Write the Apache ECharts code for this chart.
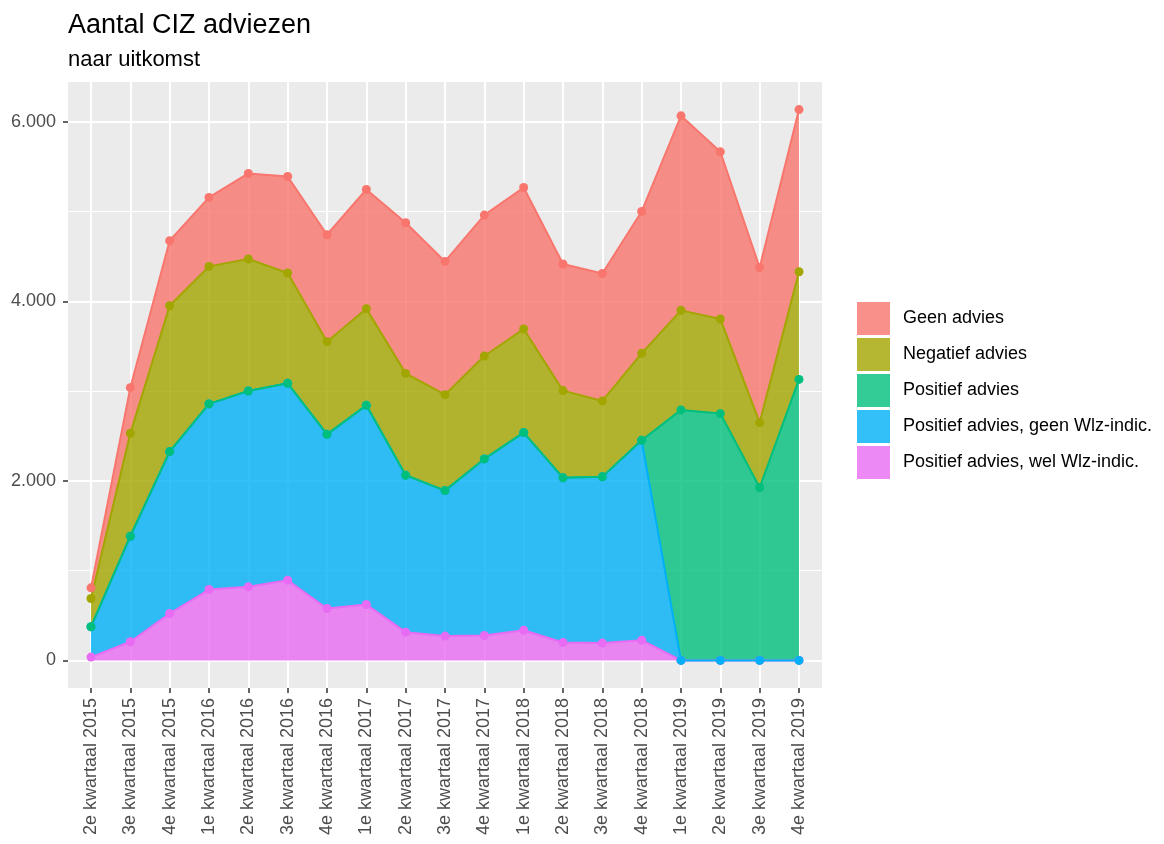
<!DOCTYPE html>
<html lang="nl">
<head>
  <meta charset="UTF-8">
  <title>Aantal CIZ adviezen</title>
  <script src="https://cdn.jsdelivr.net/npm/echarts@6/dist/echarts.min.js"></script>
  <style>
    html, body { margin: 0; padding: 0; background: #fff; }
    #chart { width: 1164px; height: 844px; }
  </style>
</head>
<body>
<div id="chart"></div>
<script>
// kwartalen op de x-as
var categories = [
  '2e kwartaal 2015', '3e kwartaal 2015', '4e kwartaal 2015',
  '1e kwartaal 2016', '2e kwartaal 2016', '3e kwartaal 2016', '4e kwartaal 2016',
  '1e kwartaal 2017', '2e kwartaal 2017', '3e kwartaal 2017', '4e kwartaal 2017',
  '1e kwartaal 2018', '2e kwartaal 2018', '3e kwartaal 2018', '4e kwartaal 2018',
  '1e kwartaal 2019', '2e kwartaal 2019', '3e kwartaal 2019', '4e kwartaal 2019'
];

// aantallen per uitkomst (niet cumulatief)
var welWlz     = [37, 208, 523, 790, 820, 894, 579, 623, 315, 271, 278, 337, 200, 193, 226, 0, 0, 0, 0];
var geenWlz    = [338, 1176, 1804, 2068, 2182, 2193, 1940, 2219, 1748, 1621, 1967, 2201, 1834, 1852, 2226, 0, 0, 0, 0];
var positief   = [0, 0, 0, 0, 0, 0, 0, 0, 0, 0, 0, 0, 0, 0, 0, 2791, 2750, 1926, 3131];
var negatief   = [315, 1146, 1625, 1532, 1470, 1229, 1032, 1076, 1135, 1069, 1147, 1154, 972, 846, 969, 1109, 1054, 723, 1199];
var geenAdvies = [119, 509, 723, 768, 953, 1075, 1191, 1329, 1678, 1484, 1569, 1577, 1410, 1420, 1581, 2167, 1862, 1729, 1807];

var yMajor = [0, 2000, 4000, 6000];
var yMinor = [1000, 3000, 5000];
var yMin = -307, yMax = 6444;

var colors = {
  geen: '#F8766D',
  neg: '#A3A500',
  pos: '#00BF7D',
  posGeen: '#00B0F6',
  posWel: '#E76BF3'
};

function fmt(v) {
  return String(v).replace(/\B(?=(\d{3})+(?!\d))/g, '.');
}

function mk(name, values, color) {
  return {
    name: name,
    type: 'line',
    stack: 'total',
    xAxisIndex: 1,
    yAxisIndex: 2,
    data: values,
    symbol: 'circle',
    symbolSize: 9,
    itemStyle: { color: color },
    lineStyle: { color: color, width: 2 },
    areaStyle: { color: color, opacity: 0.8 },
    emphasis: { disabled: true }
  };
}

var chart = echarts.init(document.getElementById('chart'));

chart.setOption({
  animation: false,
  textStyle: { fontFamily: 'Liberation Sans, Arial, sans-serif' },
  title: [
    { text: 'Aantal CIZ adviezen', left: 68, top: 12, padding: 0,
      textStyle: { fontSize: 27, fontWeight: 'normal', color: '#000' } },
    { text: 'naar uitkomst', left: 68, top: 49, padding: 0,
      textStyle: { fontSize: 22, fontWeight: 'normal', color: '#000' } }
  ],
  legend: {
    orient: 'vertical',
    left: 857,
    top: 302,
    itemWidth: 33,
    itemHeight: 33,
    itemGap: 3,
    padding: 0,
    textStyle: { fontSize: 18, color: '#000', padding: [3, 0, 0, 8] },
    data: [
      { name: 'Geen advies', icon: 'rect', itemStyle: { opacity: 0.8 } },
      { name: 'Negatief advies', icon: 'rect', itemStyle: { opacity: 0.8 } },
      { name: 'Positief advies', icon: 'rect', itemStyle: { opacity: 0.8 } },
      { name: 'Positief advies, geen Wlz-indic.', icon: 'rect', itemStyle: { opacity: 0.8 } },
      { name: 'Positief advies, wel Wlz-indic.', icon: 'rect', itemStyle: { opacity: 0.8 } }
    ]
  },
  grid: [
    // paneel met achtergrond en horizontale rasterlijnen
    { left: 68, right: 342, top: 82, bottom: 156,
      show: true, backgroundColor: '#EBEBEB', borderWidth: 0 },
    // data, met ruimte links en rechts zoals in ggplot
    { left: 91, right: 365, top: 82, bottom: 156 }
  ],
  xAxis: [
    { gridIndex: 0, type: 'value', min: 0, max: 1, show: false },
    {
      gridIndex: 1,
      type: 'category',
      data: categories,
      boundaryGap: false,
      axisLine: { show: false, onZero: false },
      axisTick: { interval: 0, length: 5, lineStyle: { color: '#333', width: 1.5 } },
      axisLabel: { interval: 0, rotate: 90, margin: 10, fontSize: 18, color: '#4D4D4D' },
      splitLine: { show: true, interval: 0, lineStyle: { color: '#fff', width: 2 } }
    }
  ],
  yAxis: [
    {
      gridIndex: 0,
      type: 'value',
      min: yMin,
      max: yMax,
      axisLine: { show: false, onZero: false },
      axisTick: { customValues: yMajor, length: 5, lineStyle: { color: '#333', width: 1.5 } },
      axisLabel: { customValues: yMajor, margin: 12, fontSize: 18, color: '#4D4D4D', formatter: fmt },
      splitLine: { lineStyle: { color: '#fff', width: 2 } }
    },
    {
      gridIndex: 0,
      type: 'value',
      min: yMin,
      max: yMax,
      position: 'left',
      axisLine: { show: false, onZero: false },
      axisTick: { show: false, customValues: yMinor },
      axisLabel: { show: false },
      splitLine: { lineStyle: { color: '#fff', width: 1 } }
    },
    { gridIndex: 1, type: 'value', min: yMin, max: yMax, show: false }
  ],
  series: [
    mk('Positief advies, wel Wlz-indic.', welWlz, colors.posWel),
    mk('Positief advies, geen Wlz-indic.', geenWlz, colors.posGeen),
    mk('Positief advies', positief, colors.pos),
    mk('Negatief advies', negatief, colors.neg),
    mk('Geen advies', geenAdvies, colors.geen)
  ]
});
</script>
</body>
</html>
